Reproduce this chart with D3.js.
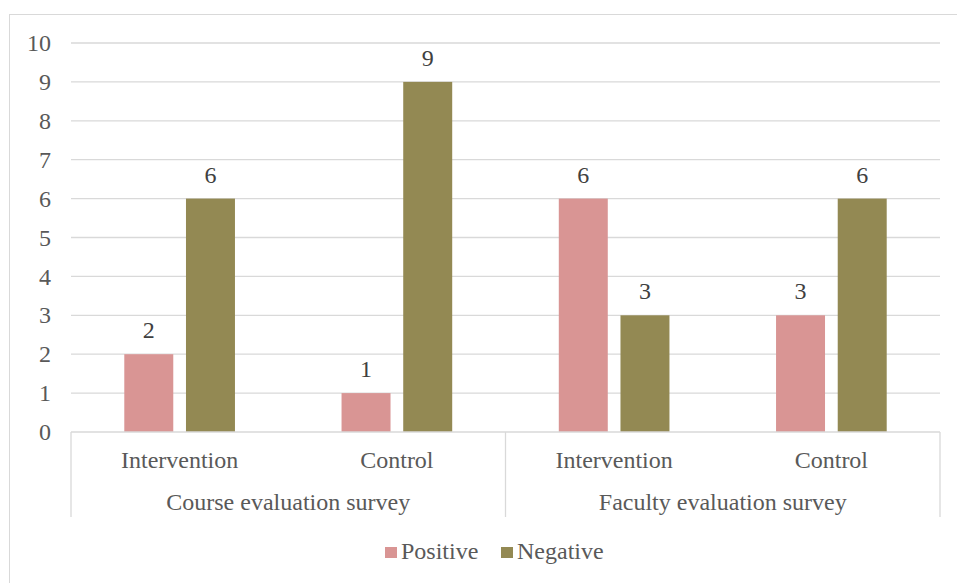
<!DOCTYPE html>
<html>
<head>
<meta charset="utf-8">
<script src="https://cdn.jsdelivr.net/npm/d3@7"></script>
<style>
  html, body { margin: 0; padding: 0; background: #fff; }
  svg { display: block; }
</style>
</head>
<body>
<svg id="chart" width="957" height="583"></svg>
<script>
// Survey responses, grouped by survey then by study arm
const surveys = ["Course evaluation survey", "Faculty evaluation survey"];
const arms = ["Intervention", "Control"];
const seriesNames = ["Positive", "Negative"];
const positive = [2, 1, 6, 3];
const negative = [6, 9, 3, 6];
const yTicks = [0, 1, 2, 3, 4, 5, 6, 7, 8, 9, 10];
const colors = ["#d99594", "#938953"];

const FONT = "Liberation Serif, Times New Roman, serif";
const FS = 24;
const svg = d3.select("#chart");
const W = 957, H = 583;
const margin = { left: 71, right: 17, top: 43, bottom: 151 };
const plotW = W - margin.left - margin.right;
const plotH = H - margin.top - margin.bottom;

// outer chart frame
svg.append("rect")
  .attr("x", 9.5).attr("y", 14.5)
  .attr("width", 960).attr("height", 600)
  .attr("fill", "#fff").attr("stroke", "#d9d9d9").attr("stroke-width", 1);

const g = svg.append("g").attr("transform", `translate(${margin.left},${margin.top})`);

// build the list of categories (survey × arm)
const cats = [];
surveys.forEach((s, si) => arms.forEach((a, ai) => cats.push({ key: si + "-" + ai, survey: s, arm: a })));
const rows = cats.map((c, i) => ({ ...c, values: [positive[i], negative[i]] }));

const x0 = d3.scaleBand().domain(cats.map(c => c.key)).range([0, plotW]).paddingInner(0).paddingOuter(0);
const x1 = d3.scaleBand().domain(seriesNames).range([0, x0.bandwidth()]).paddingInner(0.206).paddingOuter(0.864);
const y = d3.scaleLinear().domain([0, 10]).range([plotH, 0]);

// gridlines
g.append("g").selectAll("line").data(yTicks.filter(t => t > 0)).join("line")
  .attr("x1", 0).attr("x2", plotW)
  .attr("y1", d => y(d)).attr("y2", d => y(d))
  .attr("stroke", "#d9d9d9").attr("stroke-width", 1.3);

// y axis labels
const yAxis = d3.axisLeft(y).tickValues(yTicks).tickSize(0).tickPadding(20).tickFormat(d3.format("d"));
g.append("g").call(yAxis)
  .attr("font-family", FONT)
  .call(a => a.select(".domain").remove())
  .selectAll("text")
  .attr("font-family", FONT)
  .attr("fill", "#595959").attr("font-size", FS);

// bars
const cg = g.selectAll(".cat").data(rows).join("g")
  .attr("class", "cat")
  .attr("transform", d => `translate(${x0(d.key)},0)`);

cg.selectAll("rect").data(d => d.values.map((v, i) => ({ name: seriesNames[i], v, i }))).join("rect")
  .attr("x", d => x1(d.name))
  .attr("width", x1.bandwidth())
  .attr("y", d => y(d.v))
  .attr("height", d => y(0) - y(d.v))
  .attr("fill", d => colors[d.i]);

// value labels above each bar
cg.selectAll("text.val").data(d => d.values.map((v, i) => ({ name: seriesNames[i], v, i }))).join("text")
  .attr("class", "val")
  .attr("x", d => x1(d.name) + x1.bandwidth() / 2)
  .attr("y", d => y(d.v) - 16)
  .attr("text-anchor", "middle")
  .attr("font-family", FONT)
  .attr("font-size", FS).attr("fill", "#404040")
  .text(d => d.v);

// category axis baseline and group separators
const axisG = g.append("g");
axisG.append("line").attr("x1", 0).attr("x2", plotW).attr("y1", plotH).attr("y2", plotH)
  .attr("stroke", "#d9d9d9").attr("stroke-width", 1.3);
const sepX = [0, x0(cats[2].key), plotW];
axisG.selectAll("line.sep").data(sepX).join("line").attr("class", "sep")
  .attr("x1", d => d).attr("x2", d => d)
  .attr("y1", plotH).attr("y2", plotH + 85)
  .attr("stroke", "#d9d9d9").attr("stroke-width", 1.3);

// arm labels
axisG.selectAll("text.arm").data(cats).join("text").attr("class", "arm")
  .attr("x", d => x0(d.key) + x0.bandwidth() / 2)
  .attr("y", plotH + 36)
  .attr("text-anchor", "middle").attr("font-size", FS).attr("fill", "#595959")
  .attr("font-family", FONT)
  .text(d => d.arm);

// survey labels
axisG.selectAll("text.survey").data(surveys).join("text").attr("class", "survey")
  .attr("x", (d, i) => x0(cats[i * 2].key) + x0.bandwidth())
  .attr("y", plotH + 78)
  .attr("text-anchor", "middle").attr("font-size", FS).attr("fill", "#595959")
  .attr("font-family", FONT)
  .text(d => d);

// legend
const legend = svg.append("g").attr("transform", "translate(0,559)");
const legendItems = [{ name: seriesNames[0], x: 385 }, { name: seriesNames[1], x: 501 }];
legendItems.forEach((it, i) => {
  legend.append("rect").attr("x", it.x).attr("y", -12).attr("width", 12).attr("height", 11).attr("fill", colors[i]);
  legend.append("text").attr("x", it.x + 16).attr("y", 0)
    .attr("font-family", FONT)
    .attr("font-size", FS).attr("fill", "#595959").text(it.name);
});
</script>
</body>
</html>
